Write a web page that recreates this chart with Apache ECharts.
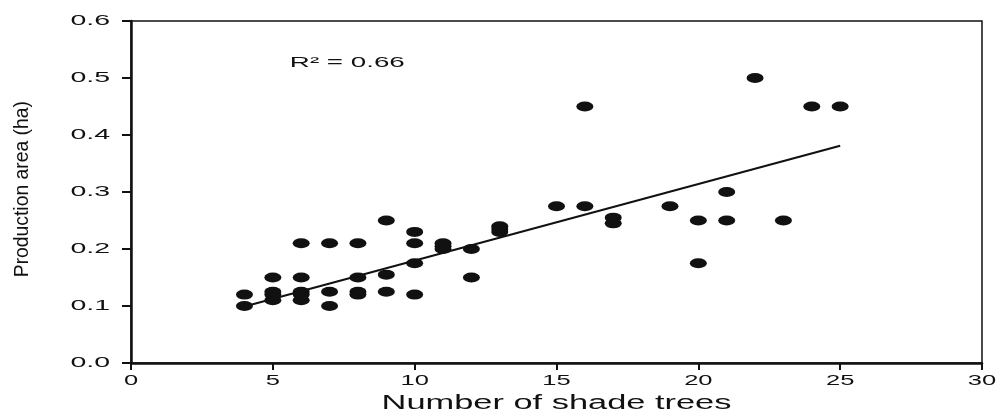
<!DOCTYPE html>
<html>
<head>
<meta charset="utf-8">
<script src="https://cdn.jsdelivr.net/npm/echarts@6/dist/echarts.min.js"></script>
<style>
  html, body { margin: 0; background: #fff; }
  #chart { width: 1000px; height: 416px; }
</style>
</head>
<body>
<div id="chart"></div>
<script>
// shade trees per farm vs production area
const shadeTrees = [4, 4, 5, 5, 5, 5, 6, 6, 6, 6, 6, 7, 7, 7, 8, 8, 8, 8, 9, 9, 9,
  10, 10, 10, 10, 11, 11, 11, 12, 12, 13, 13, 13, 15, 16, 16, 17, 17, 19, 20, 20,
  21, 21, 22, 23, 24, 25]
const prodArea = [0.12, 0.10, 0.15, 0.125, 0.12, 0.11, 0.21, 0.15, 0.125, 0.12, 0.11,
  0.21, 0.125, 0.10, 0.21, 0.15, 0.125, 0.12, 0.25, 0.155, 0.125,
  0.23, 0.21, 0.175, 0.12, 0.21, 0.205, 0.20, 0.20, 0.15, 0.24, 0.235, 0.23,
  0.275, 0.45, 0.275, 0.255, 0.245, 0.275, 0.25, 0.175,
  0.30, 0.25, 0.50, 0.25, 0.45, 0.45]
// regression line ends
const fitX = [4, 25]
const fitY = [0.099, 0.381]
const xTicks = [0, 5, 10, 15, 20, 25, 30]
const yTicks = [0, 0.1, 0.2, 0.3, 0.4, 0.5, 0.6]
const r2Text = 'R² = 0.66'
const r2Pos = [5.6, 0.527]
const xTitle = 'Number of shade trees'
const yTitle = 'Production area (ha)'

const ink = '#111'
const font = '"Liberation Sans", Arial, Helvetica, sans-serif'

const chart = echarts.init(document.getElementById('chart'))
chart.setOption({
  animation: false,
  grid: {
    left: 131, right: 18, top: 21, bottom: 53,
    show: true, borderColor: ink, borderWidth: 1.5
  },
  xAxis: {
    type: 'value', min: 0, max: 30, interval: 5,
    splitLine: { show: false },
    axisLine: { lineStyle: { color: ink, width: 2.5 } },
    axisTick: { length: 7, lineStyle: { color: ink, width: 2 } },
    axisLabel: { show: false }
  },
  yAxis: {
    type: 'value', min: 0, max: 0.6, interval: 0.1,
    splitLine: { show: false },
    axisLine: { lineStyle: { color: ink, width: 2.5 } },
    axisTick: { length: 9, lineStyle: { color: ink, width: 2 } },
    axisLabel: { show: false }
  },
  series: [{
    type: 'scatter',
    data: shadeTrees.map((x, i) => [x, prodArea[i]]),
    symbol: 'circle',
    symbolSize: [17, 10],
    itemStyle: { color: ink, opacity: 1 },
    z: 3
  }, {
    type: 'line',
    data: fitX.map((x, i) => [x, fitY[i]]),
    showSymbol: false,
    lineStyle: { color: ink, width: 2 },
    z: 4
  }]
})

// labels are drawn wide (stretched) as in the source figure
const px = (v) => chart.convertToPixel({ gridIndex: 0 }, v)
const graphics = []
xTicks.forEach((t) => {
  const p = px([t, 0])
  graphics.push({
    type: 'text', x: p[0], y: p[1] + 18, scaleX: 1.7,
    style: { text: String(t), fontFamily: font, fontSize: 15, fill: ink, align: 'center', verticalAlign: 'middle' }
  })
})
yTicks.forEach((t) => {
  const p = px([0, t])
  graphics.push({
    type: 'text', x: p[0] - 21, y: p[1], scaleX: 1.9,
    style: { text: t.toFixed(1), fontFamily: font, fontSize: 15, fill: ink, align: 'right', verticalAlign: 'middle' }
  })
})
const xMid = px([15, 0])
graphics.push({
  type: 'text', x: xMid[0], y: xMid[1] + 40, scaleX: 1.72,
  style: { text: xTitle, fontFamily: font, fontSize: 20, fill: ink, align: 'center', verticalAlign: 'middle' }
})
const yMid = px([0, 0.305])
graphics.push({
  type: 'text', x: 22, y: yMid[1], rotation: Math.PI / 2, scaleX: 0.92,
  style: { text: yTitle, fontFamily: font, fontSize: 21, fill: ink, align: 'center', verticalAlign: 'middle' }
})
const r2 = px(r2Pos)
graphics.push({
  type: 'text', x: r2[0], y: r2[1], scaleX: 1.85,
  style: { text: r2Text, fontFamily: font, fontSize: 15, fill: ink, align: 'left', verticalAlign: 'middle' }
})
chart.setOption({ graphic: graphics })
</script>
</body>
</html>
